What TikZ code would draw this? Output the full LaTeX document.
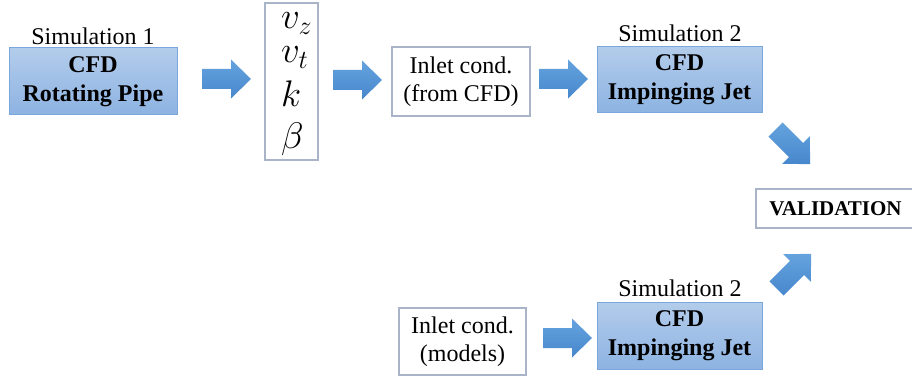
\documentclass[tikz,border=0pt]{standalone}
\usepackage{fix-cm}
\usepackage{fontspec}
\setmainfont{Liberation Serif}
\DeclareMathSizes{37}{37}{26}{20}
\definecolor{bluetop}{HTML}{B3CCEB}
\definecolor{bluebot}{HTML}{8DB3E2}
\definecolor{boxedge}{HTML}{7BA7DD}
\definecolor{grayedge}{HTML}{A9B4C9}
\definecolor{arrowtop}{HTML}{65A3DE}
\definecolor{arrowbot}{HTML}{4787CC}
\begin{document}
\begin{tikzpicture}[x=1pt,y=-1pt,
  bluebox/.style={draw=boxedge, line width=1pt, top color=bluetop, bottom color=bluebot,
    align=center, font=\bfseries\fontsize{24}{29}\selectfont, inner sep=0pt},
  whitebox/.style={draw=grayedge, line width=2.5pt, fill=white, align=center,
    font=\fontsize{24}{28}\selectfont, inner sep=0pt},
  simlabel/.style={font=\fontsize{24}{26}\selectfont, anchor=base, inner sep=0pt},
  mathvar/.style={font=\fontsize{37}{40}\selectfont, anchor=base west, inner sep=0pt},
  blockarrow/.style={top color=arrowtop, bottom color=arrowbot, draw=none}]
\useasboundingbox (0,0) rectangle (912,379);
\newcommand\barrow[2]{\shade[blockarrow, shift={(#1)}, rotate=#2]
  (0,-10) -- (29,-10) -- (29,-19.5) -- (49,0) -- (29,19.5) -- (29,10) -- (0,10) -- cycle;}
% boxes
\node[bluebox, minimum width=168pt, minimum height=67pt] (pipe) at (93,81.5) {CFD\\Rotating Pipe};
\node[simlabel] (sim1) at (93,45) {Simulation 1};
\node[whitebox, minimum width=53pt, minimum height=157pt] (vars) at (291.5,81.5) {};
\node[mathvar] (vz) at (281,28.5) {$v_z$};
\node[mathvar] (vt) at (281,63) {$v_t$};
\node[mathvar] (vk) at (281,107) {$k$};
\node[mathvar] (vb) at (281,149) {$\beta$};
\node[whitebox, minimum width=138pt, minimum height=69pt] (inlet1) at (461,81.5) {Inlet cond.\\(from CFD)};
\node[bluebox, minimum width=165pt, minimum height=66pt] (jet1) at (679.5,80) {CFD\\Impinging Jet};
\node[simlabel] (sim2a) at (680,42) {Simulation 2};
\node[whitebox, minimum width=159pt, minimum height=39pt, font=\bfseries\fontsize{21}{24}\selectfont] (valid) at (835.5,208.5) {VALIDATION};
\node[whitebox, minimum width=127pt, minimum height=67pt] (inlet2) at (462.5,341.5) {Inlet cond.\\(models)};
\node[bluebox, minimum width=165pt, minimum height=67pt] (jet2) at (679.5,335.5) {CFD\\Impinging Jet};
\node[simlabel] (sim2b) at (680,296) {Simulation 2};
% block arrows
\coordinate (a1) at (202,79);
\coordinate (a2) at (333,80);
\coordinate (a3) at (539,79);
\coordinate (a4) at (543,338);
\coordinate (a5) at (775.5,129.5);
\coordinate (a6) at (776.5,288.5);
\barrow{a1}{0}
\barrow{a2}{0}
\barrow{a3}{0}
\barrow{a4}{0}
\barrow{a5}{-45}
\barrow{a6}{45}
\end{tikzpicture}
\end{document}
